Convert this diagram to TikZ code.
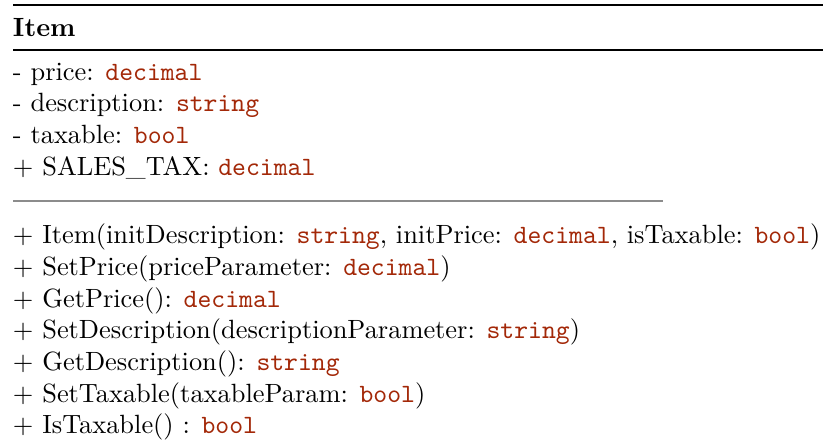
\documentclass[tikz,border=0pt]{standalone}
\usepackage{xcolor}
\definecolor{typecol}{RGB}{163,40,8}
\newcommand{\ty}[1]{\textcolor{typecol}{\texttt{#1}}}
\begin{document}
\begin{tikzpicture}[x=0.3788pt,y=-0.3788pt,
  member/.style={anchor=base west,inner sep=0pt,outer sep=0pt,font=\fontsize{10}{12}\selectfont}]
\useasboundingbox (0,0) rectangle (823,443);
% class box rules
\draw[line width=0.8pt] (13,5) -- (823,5);
\draw[line width=0.5pt] (13,50) -- (823,50);
\draw[line width=0.4pt,black!45] (13,201) -- (663,201);
% class name
\node[member,font=\fontsize{10}{12}\selectfont\bfseries] (name) at (13,37) {Item};
% attributes
\node[member] (a1) at (13,81) {- price: \ty{decimal}};
\node[member] (a2) at (13,112) {- description: \ty{string}};
\node[member] (a3) at (13,144) {- taxable: \ty{bool}};
\node[member] (a4) at (13,176) {+ SALES\_TAX: \ty{decimal}};
% operations
\node[member] (m1) at (13,244) {+ Item(initDescription: \ty{string}, initPrice: \ty{decimal}, isTaxable: \ty{bool})};
\node[member] (m2) at (13,276) {+ SetPrice(priceParameter: \ty{decimal})};
\node[member] (m3) at (13,308) {+ GetPrice(): \ty{decimal}};
\node[member] (m4) at (13,339) {+ SetDescription(descriptionParameter: \ty{string})};
\node[member] (m5) at (13,371) {+ GetDescription(): \ty{string}};
\node[member] (m6) at (13,403) {+ SetTaxable(taxableParam: \ty{bool})};
\node[member] (m7) at (13,434) {+ IsTaxable() : \ty{bool}};
\end{tikzpicture}
\end{document}
